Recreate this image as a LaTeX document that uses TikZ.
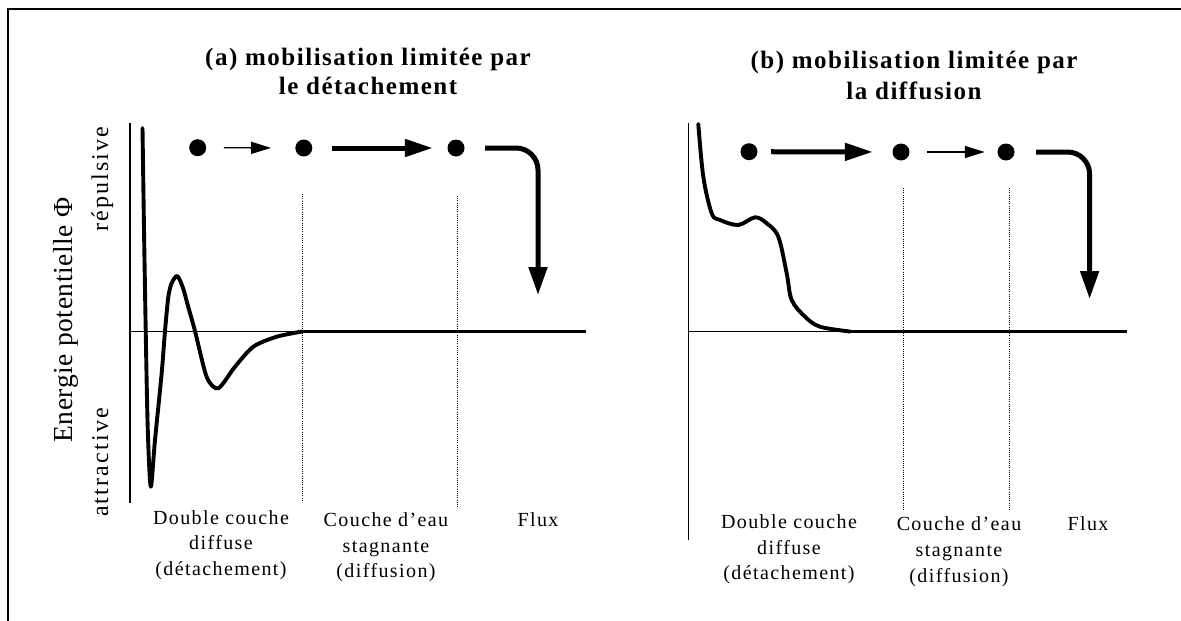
\documentclass[tikz,border=0pt]{standalone}
\usepackage{fontspec}
\setmainfont{Liberation Serif}
\usetikzlibrary{arrows.meta,calc}
\begin{document}
\begin{tikzpicture}[x=1pt,y=-1pt,
  frame/.style={line width=1.5pt},
  axis/.style={line width=1.2pt},
  zero/.style={line width=1pt},
  flat/.style={line width=3.8pt},
  curve/.style={line width=3.9pt, line join=round, line cap=round},
  sep/.style={line width=1pt, dash pattern=on 1pt off 1.2pt},
  dot/.style={circle, fill=black, inner sep=0pt, minimum size=17pt},
  thinarr/.style={line width=1.3pt, -{Triangle[length=20pt,width=12pt]}},
  thickarr/.style={line width=5pt, -{Triangle[length=28pt,width=17pt]}},
  bendarr/.style={line width=5pt, rounded corners=22pt, -{Triangle[length=28pt,width=18pt]}},
  ttl/.style={font=\fontsize{25}{29}\selectfont\bfseries\addfontfeature{LetterSpace=6}, anchor=base, inner sep=0pt},
  lbl/.style={font=\fontsize{20}{25.5}\selectfont\addfontfeature{LetterSpace=7}, anchor=base, inner sep=0pt},
  ylbl/.style={font=\fontsize{27.5}{30}\selectfont\addfontfeature{LetterSpace=2}, rotate=90, anchor=base, inner sep=0pt},
  ysub/.style={font=\fontsize{24}{26}\selectfont\addfontfeature{LetterSpace=9}, rotate=90, anchor=base, inner sep=0pt}
]
\useasboundingbox (0,0) rectangle (1181,621);
% frame
\draw[frame] (8,621) -- (8,9) -- (1181,9);

% ---------- panel (a) ----------
\node[ttl] (ta1) at (368,65) {(a) mobilisation limitée par};
\node[ttl] (ta2) at (368,94) {le détachement};

\node[ylbl] (yl) at (72,320) {Energie potentielle Φ};
\node[ysub] (rep) at (108,179) {répulsive};
\node[ysub] (att) at (108,462.5) {attractive};

\coordinate (aAxT) at (130,123);
\coordinate (aAxB) at (130,503);
\draw[axis] (aAxT) -- (aAxB);
\coordinate (aZ0) at (130,331.5);
\coordinate (aZ1) at (586,331.5);
\draw[zero] (aZ0) -- (aZ1);
\coordinate (aF0) at (302,331.5);
\draw[flat] (aF0) -- (aZ1);

\coordinate (aS1t) at (302.7,194);
\coordinate (aS1b) at (302.7,502);
\coordinate (aS2t) at (457,196);
\coordinate (aS2b) at (457,507);
\draw[sep] (aS1t) -- (aS1b);
\draw[sep] (aS2t) -- (aS2b);

\draw[curve] plot[smooth, tension=0.45] coordinates {
  (142.5,128) (144.5,260) (147.5,420) (150.7,486.7) (155,440) (161.7,373) (165,331)
  (168.3,297) (171.7,283) (177.3,276) (183,288) (188,306) (195,331) (206.7,377)
  (218.3,388.3) (235,366.7) (253.3,346.7) (276.7,336.7) (302,331.5)};

\node[dot] (a1) at (197.7,147.7) {};
\node[dot] (a2) at (303.8,148) {};
\node[dot] (a3) at (456,148) {};
\coordinate (aTip) at (538,295);
\draw[thinarr, shorten <=17.5pt, shorten >=24pt] (a1) -- (a2);
\draw[thickarr, shorten <=19.5pt, shorten >=14.5pt] (a2) -- (a3);
\draw[bendarr, shorten <=20.5pt] (a3) -- (a3 -| aTip) -- (aTip);

\node[lbl] (la1) at (221,524) {Double couche};
\node[lbl] (la2) at (221,549) {diffuse};
\node[lbl] (la3) at (221,575) {(détachement)};
\node[lbl] (lb1) at (386,526) {Couche d’eau};
\node[lbl] (lb2) at (386,552) {stagnante};
\node[lbl] (lb3) at (386,577) {(diffusion)};
\node[lbl] (lc1) at (538,526) {Flux};

% ---------- panel (b) ----------
\node[ttl] (tb1) at (914,68) {(b) mobilisation limitée par};
\node[ttl] (tb2) at (914,99) {la diffusion};

\coordinate (bAxT) at (688.3,123);
\coordinate (bAxB) at (688.3,540);
\draw[axis] (bAxT) -- (bAxB);
\coordinate (bZ0) at (688.3,331.5);
\coordinate (bZ1) at (1127,331.5);
\draw[zero] (bZ0) -- (bZ1);
\coordinate (bF0) at (848,331.5);
\draw[flat] (bF0) -- (bZ1);

\coordinate (bS1t) at (903.7,188);
\coordinate (bS1b) at (903.7,510);
\coordinate (bS2t) at (1009,188);
\coordinate (bS2b) at (1009,510);
\draw[sep] (bS1t) -- (bS1b);
\draw[sep] (bS2t) -- (bS2b);

\draw[curve] plot[smooth, tension=0.55] coordinates {
  (698.3,124) (703.3,176.7) (711.7,213.3) (720,220) (738.3,225) (755,217.3)
  (766.7,223.3) (778.3,236.7) (786.7,273.3) (791.7,300) (805,316.7) (820,326.7) (850,331.5)};

\node[dot] (b1) at (749,151.7) {};
\node[dot] (b2) at (901,152) {};
\node[dot] (b3) at (1006,152) {};
\coordinate (bTip) at (1089.6,299);
\draw[thickarr, shorten <=13.5pt, shorten >=19.5pt] (b1) -- (b2);
\draw[thinarr, shorten <=17.5pt, shorten >=12.5pt] (b2) -- (b3);
\draw[bendarr, shorten <=21.5pt] (b3) -- (b3 -| bTip) -- (bTip);

\node[lbl] (ma1) at (789,528) {Double couche};
\node[lbl] (ma2) at (789,554) {diffuse};
\node[lbl] (ma3) at (789,579) {(détachement)};
\node[lbl] (mb1) at (959,530) {Couche d’eau};
\node[lbl] (mb2) at (959,556) {stagnante};
\node[lbl] (mb3) at (959,582) {(diffusion)};
\node[lbl] (mc1) at (1088,530) {Flux};
\end{tikzpicture}
\end{document}
